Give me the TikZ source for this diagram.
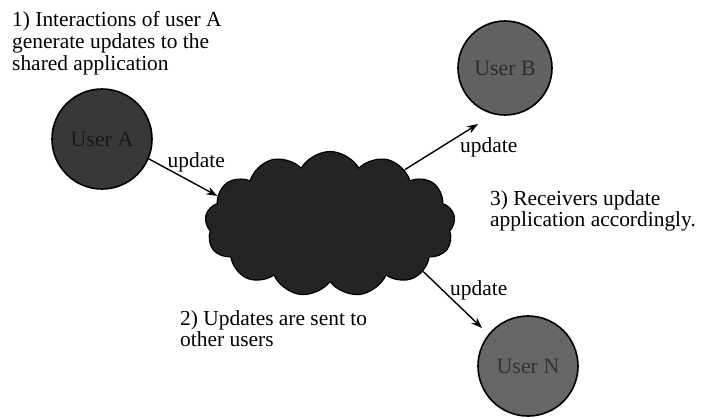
\documentclass[tikz,border=0pt]{standalone}
\usepackage{fontspec}
\setmainfont{Liberation Serif}
\usetikzlibrary{shapes.symbols,arrows.meta}
\begin{document}
\begin{tikzpicture}[x=1bp,y=-1bp,
  lbl/.style={font=\fontspec{Liberation Serif}\fontsize{21.5}{22}\selectfont, inner sep=0},
  usr/.style={circle, draw=black, line width=1.6bp, minimum size=#1, inner sep=0,
    font=\fontspec{Liberation Serif}\fontsize{22}{22}\selectfont},
  conn/.style={line width=1.4bp, -{Stealth[length=11bp,width=8bp]}},
]
\useasboundingbox (0,0) rectangle (705,417);
% users
\node[usr=100bp, fill=black!78, text=black!90] (A) at (102,139) {User A};
\node[usr=94bp, fill=black!62, text=black!82] (B) at (505,68) {User B};
\node[usr=100bp, fill=black!60, text=black!80] (N) at (528,366) {User N};
% cloud
\node[cloud, cloud puffs=13, cloud puff arc=120, aspect=1.7, draw=black, fill=black!86,
  line width=1.2bp, minimum width=250bp, minimum height=145bp, inner sep=0] (cloud) at (330,224) {};
% texts
\node[lbl, anchor=north west, align=left] (t1) at (12,11) {1) Interactions of user A\\generate updates to the\\shared application};
\node[lbl, anchor=north west, align=left] (t2) at (180,310) {2) Updates are sent to\\other users};
\node[lbl, anchor=north west, align=left] (t3) at (490,190) {3) Receivers update\\application accordingly.};
% free ends of the connectors
\coordinate (Btip) at (478,124);
\coordinate (Ntip) at (482,328);
% connectors
\draw[conn] (A.-23) -- (cloud.166);
\draw[conn] (cloud.36) -- (Btip);
\draw[conn] (cloud.-27) -- (Ntip);
% labels
\node[lbl, anchor=base east] (u1) at (225,167) {update};
\node[lbl, anchor=base west] (u2) at (460,152) {update};
\node[lbl, anchor=base west] (u3) at (450,295) {update};
\end{tikzpicture}
\end{document}
